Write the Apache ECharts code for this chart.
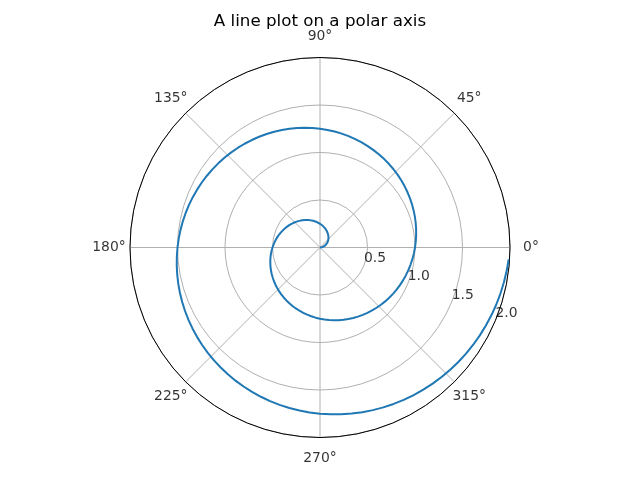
<!DOCTYPE html>
<html>
<head>
<meta charset="utf-8">
<script src="https://cdn.jsdelivr.net/npm/echarts@6/dist/echarts.min.js"></script>
<style>html,body{margin:0;padding:0;background:#fff}#c{width:640px;height:480px}</style>
</head>
<body>
<div id="c"></div>
<script>
var titleText = 'A line plot on a polar axis';
var radiusTicks = [0.5, 1.0, 1.5, 2.0];
var radiusLabelAngle = 337.5;
var angleTicks = [0, 45, 90, 135, 180, 225, 270, 315];
var spiralR = [0,0.01,0.02,0.03,0.04,0.05,0.06,0.07,0.08,0.09,0.1,0.11,0.12,0.13,0.14,0.15,0.16,0.17,0.18,0.19,0.2,0.21,0.22,0.23,0.24,0.25,0.26,0.27,0.28,0.29,0.3,0.31,0.32,0.33,0.34,0.35,0.36,0.37,0.38,0.39,0.4,0.41,0.42,0.43,0.44,0.45,0.46,0.47,0.48,0.49,0.5,0.51,0.52,0.53,0.54,0.55,0.56,0.57,0.58,0.59,0.6,0.61,0.62,0.63,0.64,0.65,0.66,0.67,0.68,0.69,0.7,0.71,0.72,0.73,0.74,0.75,0.76,0.77,0.78,0.79,0.8,0.81,0.82,0.83,0.84,0.85,0.86,0.87,0.88,0.89,0.9,0.91,0.92,0.93,0.94,0.95,0.96,0.97,0.98,0.99,1.0,1.01,1.02,1.03,1.04,1.05,1.06,1.07,1.08,1.09,1.1,1.11,1.12,1.13,1.14,1.15,1.16,1.17,1.18,1.19,1.2,1.21,1.22,1.23,1.24,1.25,1.26,1.27,1.28,1.29,1.3,1.31,1.32,1.33,1.34,1.35,1.36,1.37,1.38,1.39,1.4,1.41,1.42,1.43,1.44,1.45,1.46,1.47,1.48,1.49,1.5,1.51,1.52,1.53,1.54,1.55,1.56,1.57,1.58,1.59,1.6,1.61,1.62,1.63,1.64,1.65,1.66,1.67,1.68,1.69,1.7,1.71,1.72,1.73,1.74,1.75,1.76,1.77,1.78,1.79,1.8,1.81,1.82,1.83,1.84,1.85,1.86,1.87,1.88,1.89,1.9,1.91,1.92,1.93,1.94,1.95,1.96,1.97,1.98,1.99];
var spiralTheta = [0,3.6,7.2,10.8,14.4,18,21.6,25.2,28.8,32.4,36,39.6,43.2,46.8,50.4,54,57.6,61.2,64.8,68.4,72,75.6,79.2,82.8,86.4,90,93.6,97.2,100.8,104.4,108,111.6,115.2,118.8,122.4,126,129.6,133.2,136.8,140.4,144,147.6,151.2,154.8,158.4,162,165.6,169.2,172.8,176.4,180,183.6,187.2,190.8,194.4,198,201.6,205.2,208.8,212.4,216,219.6,223.2,226.8,230.4,234,237.6,241.2,244.8,248.4,252,255.6,259.2,262.8,266.4,270,273.6,277.2,280.8,284.4,288,291.6,295.2,298.8,302.4,306,309.6,313.2,316.8,320.4,324,327.6,331.2,334.8,338.4,342,345.6,349.2,352.8,356.4,0,3.6,7.2,10.8,14.4,18,21.6,25.2,28.8,32.4,36,39.6,43.2,46.8,50.4,54,57.6,61.2,64.8,68.4,72,75.6,79.2,82.8,86.4,90,93.6,97.2,100.8,104.4,108,111.6,115.2,118.8,122.4,126,129.6,133.2,136.8,140.4,144,147.6,151.2,154.8,158.4,162,165.6,169.2,172.8,176.4,180,183.6,187.2,190.8,194.4,198,201.6,205.2,208.8,212.4,216,219.6,223.2,226.8,230.4,234,237.6,241.2,244.8,248.4,252,255.6,259.2,262.8,266.4,270,273.6,277.2,280.8,284.4,288,291.6,295.2,298.8,302.4,306,309.6,313.2,316.8,320.4,324,327.6,331.2,334.8,338.4,342,345.6,349.2,352.8,356.4];

var lineData = spiralR.map(function (r, i) { return [r, spiralTheta[i]]; });
var labelData = radiusTicks.map(function (r) { return [r, radiusLabelAngle]; });
var labelPad = 21;
var angleLabelData = angleTicks.map(function (a) {
  var rad = a * Math.PI / 180;
  return {
    value: [2, a],
    label: { offset: [labelPad * Math.cos(rad), -labelPad * Math.sin(rad)] }
  };
});
var textBase = { color: '#000', fontSize: 13.9, fontFamily: 'DejaVu Sans' };

var chart = echarts.init(document.getElementById('c'));
chart.setOption({
  animation: false,
  backgroundColor: '#ffffff',
  textStyle: { fontFamily: 'DejaVu Sans' },
  title: {
    text: titleText, left: 'center', top: 8,
    textStyle: { fontFamily: 'DejaVu Sans', fontSize: 16.7, fontWeight: 'normal', color: '#000' }
  },
  polar: { center: [320, 247.5], radius: 190 },
  angleAxis: {
    type: 'value', min: 0, max: 360, interval: 45, startAngle: 0, clockwise: false,
    axisLine: { show: true, lineStyle: { color: '#000', width: 1 } },
    axisTick: { show: false },
    axisLabel: { show: false },
    splitLine: { show: true, lineStyle: { color: '#b0b0b0', width: 1 } }
  },
  radiusAxis: {
    type: 'value', min: 0, max: 2, interval: 0.5,
    axisLine: { show: false }, axisTick: { show: false }, axisLabel: { show: false },
    splitLine: { show: true, lineStyle: { color: '#b0b0b0', width: 1 } }
  },
  series: [
    {
      type: 'line', coordinateSystem: 'polar', data: lineData, showSymbol: false, symbol: 'none',
      lineStyle: { color: '#1f77b4', width: 2 }, silent: true, z: 3
    },
    {
      type: 'scatter', coordinateSystem: 'polar', data: labelData, symbolSize: 0.01,
      itemStyle: { color: 'rgba(0,0,0,0)' }, silent: true, z: 4,
      label: Object.assign({
        show: true, position: [0, 0], align: 'left', verticalAlign: 'bottom',
        formatter: function (p) { return p.value[0].toFixed(1); }
      }, textBase)
    },
    {
      type: 'scatter', coordinateSystem: 'polar', data: angleLabelData, symbolSize: 0.01,
      itemStyle: { color: 'rgba(0,0,0,0)' }, silent: true, z: 4, clip: false,
      label: Object.assign({
        show: true, position: [0, 0], align: 'center', verticalAlign: 'middle',
        formatter: function (p) { return p.value[1] + '°'; }
      }, textBase)
    }
  ]
});
</script>
</body>
</html>
